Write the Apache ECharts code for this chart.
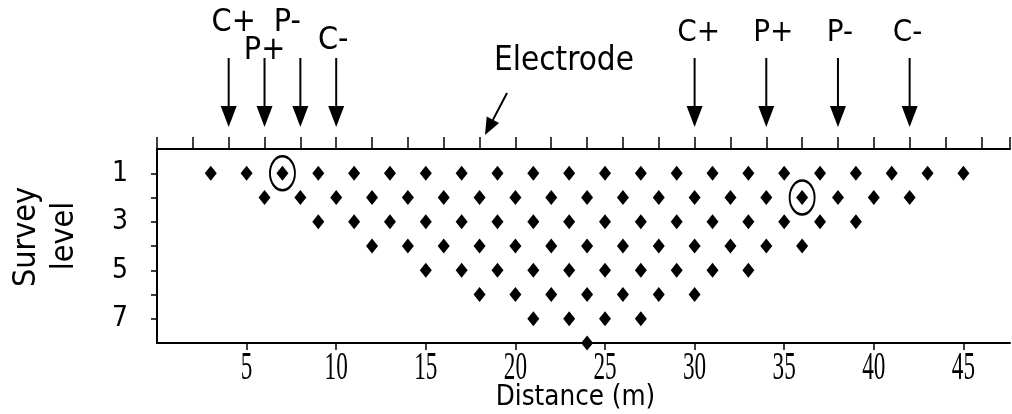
<!DOCTYPE html>
<html>
<head>
<meta charset="utf-8">
<script src="https://cdn.jsdelivr.net/npm/echarts@6/dist/echarts.min.js"></script>
<style>
  html, body { margin: 0; padding: 0; background: #fff; }
  #chart { width: 1012px; height: 414px; }
</style>
</head>
<body>
<div id="chart"></div>
<script>
// Measurement points of the pseudosection, one list of distances (m) per survey level
const level1 = [3, 5, 7, 9, 11, 13, 15, 17, 19, 21, 23, 25, 27, 29, 31, 33, 35, 37, 39, 41, 43, 45];
const level2 = [6, 8, 10, 12, 14, 16, 18, 20, 22, 24, 26, 28, 30, 32, 34, 36, 38, 40, 42];
const level3 = [9, 11, 13, 15, 17, 19, 21, 23, 25, 27, 29, 31, 33, 35, 37, 39];
const level4 = [12, 14, 16, 18, 20, 22, 24, 26, 28, 30, 32, 34, 36];
const level5 = [15, 17, 19, 21, 23, 25, 27, 29, 31, 33];
const level6 = [18, 20, 22, 24, 26, 28, 30];
const level7 = [21, 23, 25, 27];
const level8 = [24];

// Points circled as examples: [distance, level]
const circledPoints = [[7, 1], [36, 2]];

// Electrode arrays shown above the line
const electrodePositions = [4, 6, 8, 10, 30, 34, 38, 42];
const electrodeLabels = ['C+', 'P+', 'P-', 'C-', 'C+', 'P+', 'P-', 'C-'];

// Axis ticks and labels
const distanceLabels = [5, 10, 15, 20, 25, 30, 35, 40, 45];
const levelTicks = [1, 2, 3, 4, 5, 6, 7];
const levelLabels = [1, 3, 5, 7];

const SANS = '"DejaVu Sans Condensed", "DejaVu Sans", sans-serif';
const SERIF = '"Liberation Serif", "DejaVu Serif", serif';

// Label placement for the electrode arrows (pixel offsets / centres)
const electrodeLabelDx = [5, 0, -13, -3, 4, 7, 2, -2];
const electrodeLabelCy = [23, 51, 23, 41, 33, 33, 33, 33];
const electrodeLabelSize = [32, 32, 32, 32, 31, 31, 31, 31];

const allLevels = [level1, level2, level3, level4, level5, level6, level7, level8];
const points = [];
allLevels.forEach((xs, i) => xs.forEach(x => points.push([x, i + 1])));

const chart = echarts.init(document.getElementById('chart'), null, { renderer: 'canvas' });

const option = {
  animation: false,
  backgroundColor: '#fff',
  grid: { left: 157, right: 2, top: 149, bottom: 71 },
  xAxis: [
    {
      type: 'value', position: 'bottom', min: 0, max: 47.6, interval: 5,
      axisLine: { show: true, onZero: false, lineStyle: { color: '#000', width: 2 } },
      axisTick: { show: true, length: 7, customValues: distanceLabels, lineStyle: { color: '#000', width: 1.5 } },
      axisLabel: { show: false },
      splitLine: { show: false }
    },
    {
      type: 'value', position: 'top', min: 0, max: 47.6, interval: 2,
      axisLine: { show: true, onZero: false, lineStyle: { color: '#000', width: 2 } },
      axisTick: { show: true, length: 12, lineStyle: { color: '#000', width: 1.5 } },
      axisLabel: { show: false },
      splitLine: { show: false }
    }
  ],
  yAxis: {
    type: 'value', min: 0, max: 8, interval: 1, inverse: true,
    axisLine: { show: true, onZero: false, lineStyle: { color: '#000', width: 2 } },
    axisTick: { show: true, length: 6, customValues: levelTicks, lineStyle: { color: '#000', width: 1.5 } },
    axisLabel: {
      show: true, customValues: levelLabels, color: '#000',
      fontFamily: SANS, fontSize: 28, margin: 29, align: 'right',
      padding: [8, 0, 0, 0]
    },
    splitLine: { show: false }
  },
  series: [
    {
      name: 'points', type: 'scatter', data: points, clip: false,
      symbol: 'diamond', symbolSize: [12, 15],
      itemStyle: { color: '#000', opacity: 1 }, z: 3
    },
    {
      name: 'circled', type: 'scatter', data: circledPoints, clip: false,
      symbol: 'circle', symbolSize: [25, 34],
      itemStyle: { color: 'rgba(0,0,0,0)', borderColor: '#000', borderWidth: 2.2, opacity: 1 }, z: 4
    },
    {
      // arrows and C/P labels above the electrode line
      name: 'electrodes', type: 'custom', data: electrodePositions.map(x => [x, 0]), clip: false,
      renderItem: function (params, api) {
        const px = api.coord([api.value(0), 0])[0];
        const i = params.dataIndex;
        return {
          type: 'group',
          children: [
            { type: 'line', shape: { x1: px, y1: 58, x2: px, y2: 110 }, style: { stroke: '#000', lineWidth: 2 } },
            { type: 'polygon', shape: { points: [[px - 8, 106], [px + 8, 106], [px, 127]] }, style: { fill: '#000' } },
            {
              type: 'text', x: px + electrodeLabelDx[i], y: electrodeLabelCy[i],
              style: {
                text: electrodeLabels[i], fill: '#000',
                font: electrodeLabelSize[i] + 'px ' + SANS,
                textAlign: 'center', textVerticalAlign: 'middle'
              }
            }
          ]
        };
      }
    },
    {
      // narrow serif tick labels under the distance axis
      name: 'distanceLabels', type: 'custom', data: distanceLabels.map(v => [v, 8]), clip: false,
      renderItem: function (params, api) {
        const p = api.coord([api.value(0), api.value(1)]);
        return {
          type: 'text', x: p[0], y: p[1] + 25.5, scaleX: 0.58,
          style: {
            text: String(api.value(0)), fill: '#000',
            font: '40px ' + SERIF,
            textAlign: 'center', textVerticalAlign: 'middle'
          }
        };
      }
    }
  ],
  graphic: [
    {
      type: 'text', x: 564, y: 61,
      style: { text: 'Electrode', fill: '#000', font: '33px ' + SANS, textAlign: 'center', textVerticalAlign: 'middle' }
    },
    { type: 'line', shape: { x1: 507, y1: 93, x2: 492.9, y2: 119.9 }, style: { stroke: '#000', lineWidth: 2 } },
    { type: 'polygon', shape: { points: [[485, 135], [499.1, 123.1], [486.7, 116.6]] }, style: { fill: '#000' } },
    {
      type: 'text', x: 575.5, y: 398,
      style: { text: 'Distance (m)', fill: '#000', font: '27.5px ' + SANS, textAlign: 'center', textVerticalAlign: 'middle' }
    },
    {
      type: 'text', x: 27, y: 237, rotation: Math.PI / 2,
      style: { text: 'Survey', fill: '#000', font: '32px ' + SANS, textAlign: 'center', textVerticalAlign: 'middle' }
    },
    {
      type: 'text', x: 65, y: 236, rotation: Math.PI / 2,
      style: { text: 'level', fill: '#000', font: '32px ' + SANS, textAlign: 'center', textVerticalAlign: 'middle' }
    }
  ]
};

chart.setOption(option);
</script>
</body>
</html>
